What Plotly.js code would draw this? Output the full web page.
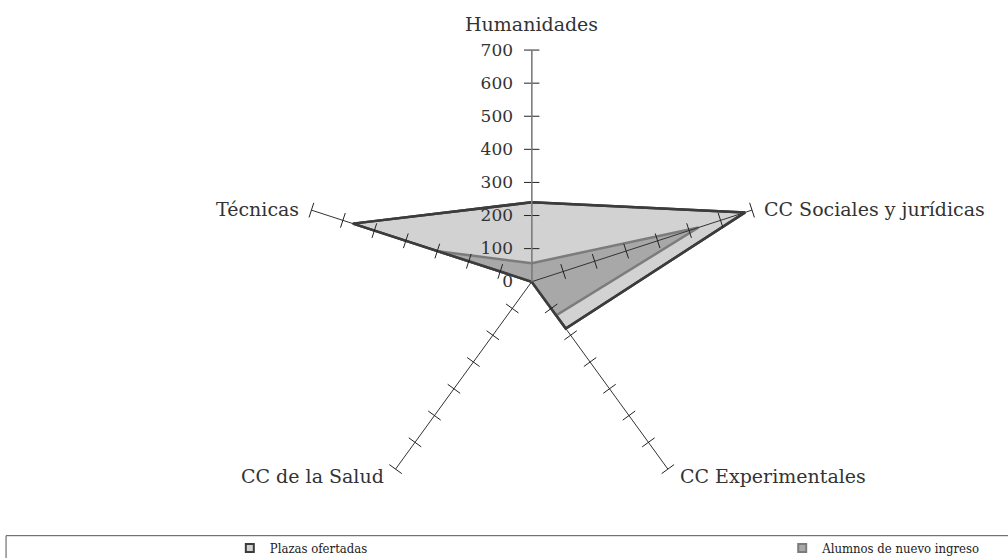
<!DOCTYPE html>
<html>
<head>
<meta charset="utf-8">
<script src="https://cdn.plot.ly/plotly-3.0.1.min.js"></script>
<style>
  html, body { margin: 0; padding: 0; background: #fff; }
  #chart { width: 1008px; height: 558px; }
</style>
</head>
<body>
<div id="chart"></div>
<script>
// Data
const categories = ['Humanidades', 'CC Sociales y jurídicas', 'CC Experimentales', 'CC de la Salud', 'Técnicas'];
const seriesNames = ['Plazas ofertadas', 'Alumnos de nuevo ingreso'];
const plazas = [240, 678, 175, 0, 568];
const alumnos = [56, 530, 126, 0, 298];
const radialTicks = [0, 100, 200, 300, 400, 500, 600, 700];

const serif = 'DejaVu Serif, Liberation Serif, serif';
const rMax = radialTicks[radialTicks.length - 1];
const fills = ['#d2d2d2', '#a8a8a8'];
const outlines = ['#3c3c3c', '#7c7c7c'];

// polar area on the page
const W = 1008, H = 558;
const domX = [0.2977, 0.7573];
const domY = [0.0799, 0.9104];

// close the polygons
const closed = arr => arr.concat([arr[0]]);
const thetaClosed = closed(categories);

// spokes drawn as a trace so they sit above the filled areas
const spokeR = [];
const spokeTheta = [];
categories.forEach(c => {
    spokeR.push(0, rMax, null);
    spokeTheta.push(c, c, c);
});

// tick marks along each spoke (Excel-style axis ticks)
const tickR = [];
const tickTheta = [];
const tickAngle = [];
categories.forEach((c, i) => {
    radialTicks.slice(1).forEach(t => {
        tickR.push(t);
        tickTheta.push(c);
        tickAngle.push(i * 360 / categories.length);
    });
});

const data = [{
    type: 'scatterpolar',
    name: seriesNames[0],
    r: closed(plazas),
    theta: thetaClosed,
    mode: 'lines',
    fill: 'toself',
    fillcolor: fills[0],
    line: { color: outlines[0], width: 2.5 },
    showlegend: false
}, {
    type: 'scatterpolar',
    name: seriesNames[1],
    r: closed(alumnos),
    theta: thetaClosed,
    mode: 'lines',
    fill: 'toself',
    fillcolor: fills[1],
    line: { color: outlines[1], width: 2.5 },
    showlegend: false
}, {
    type: 'scatterpolar',
    r: spokeR,
    theta: spokeTheta,
    mode: 'lines',
    connectgaps: false,
    line: { color: '#333', width: 1 },
    showlegend: false,
    hoverinfo: 'skip'
}, {
    // plazas outline again, so it stays on top of the darker fill
    type: 'scatterpolar',
    r: closed(plazas),
    theta: thetaClosed,
    mode: 'lines',
    line: { color: outlines[0], width: 2.5 },
    showlegend: false,
    hoverinfo: 'skip'
}, {
    type: 'scatterpolar',
    r: tickR,
    theta: tickTheta,
    mode: 'markers',
    marker: {
        symbol: 'line-ew',
        size: 11,
        angle: tickAngle,
        line: { color: '#222', width: 1 }
    },
    showlegend: false,
    hoverinfo: 'skip'
}];

// legend entries: small squares like the original
seriesNames.forEach((name, i) => {
    data.push({
        type: 'scatterpolar',
        name: name,
        r: [null],
        theta: [categories[0]],
        mode: 'markers',
        marker: { symbol: 'square', size: 8, color: fills[i], line: { color: outlines[i], width: 2 } },
        legend: i === 0 ? 'legend' : 'legend2'
    });
});

// category labels placed just outside the end of each spoke
const cx = (domX[0] + domX[1]) / 2;
const cy = (domY[0] + domY[1]) / 2;
const rx = (domX[1] - domX[0]) / 2;
const ry = (domY[1] - domY[0]) / 2;
const annotations = categories.map((c, i) => {
    const a = i * 2 * Math.PI / categories.length;
    const dx = Math.sin(a);
    const dy = Math.cos(a);
    const top = dy > 0.9;
    return {
        text: c,
        xref: 'paper',
        yref: 'paper',
        x: cx + rx * dx,
        y: cy + ry * dy,
        xanchor: top ? 'center' : (dx > 0 ? 'left' : 'right'),
        yanchor: top ? 'bottom' : 'middle',
        xshift: top ? 0 : (dx > 0 ? 10 : -10),
        yshift: top ? 13 : (dy < 0 ? -7 : 1),
        showarrow: false,
        font: { family: serif, size: 19, color: '#333' }
    };
});

const legendFont = { family: 'DejaVu Serif Condensed, DejaVu Serif, serif', size: 13, color: '#222' };

const layout = {
    width: W,
    height: H,
    margin: { l: 0, r: 0, t: 0, b: 0, autoexpand: false },
    paper_bgcolor: '#fff',
    font: { family: serif, color: '#333' },
    showlegend: true,
    polar: {
        domain: { x: domX, y: domY },
        bgcolor: 'rgba(0,0,0,0)',
        radialaxis: {
            range: [0, rMax],
            tickvals: radialTicks,
            angle: 90,
            tickangle: 90,
            side: 'counterclockwise',
            showline: true,
            linecolor: '#808080',
            linewidth: 1.5,
            showgrid: false,
            ticks: 'outside',
            ticklen: 12,
            tickcolor: 'rgba(0,0,0,0)',
            tickfont: { family: serif, size: 17, color: '#333' },
            layer: 'above traces'
        },
        angularaxis: {
            rotation: 90,
            direction: 'clockwise',
            showline: false,
            showgrid: false,
            ticks: '',
            showticklabels: false
        }
    },
    annotations: annotations,
    legend: {
        orientation: 'h',
        x: 0.228,
        xanchor: 'left',
        y: 0.018,
        yanchor: 'middle',
        itemwidth: 30,
        font: legendFont,
        bgcolor: 'rgba(0,0,0,0)'
    },
    legend2: {
        orientation: 'h',
        x: 0.776,
        xanchor: 'left',
        y: 0.018,
        yanchor: 'middle',
        itemwidth: 30,
        font: legendFont,
        bgcolor: 'rgba(0,0,0,0)'
    },
    shapes: [{
        type: 'rect',
        xref: 'paper',
        yref: 'paper',
        x0: 0.006,
        x1: 1.01,
        y0: -0.01,
        y1: 0.04,
        line: { color: '#555', width: 1 },
        fillcolor: 'rgba(0,0,0,0)'
    }]
};

Plotly.newPlot('chart', data, layout, { displayModeBar: false, staticPlot: true });
</script>
</body>
</html>
